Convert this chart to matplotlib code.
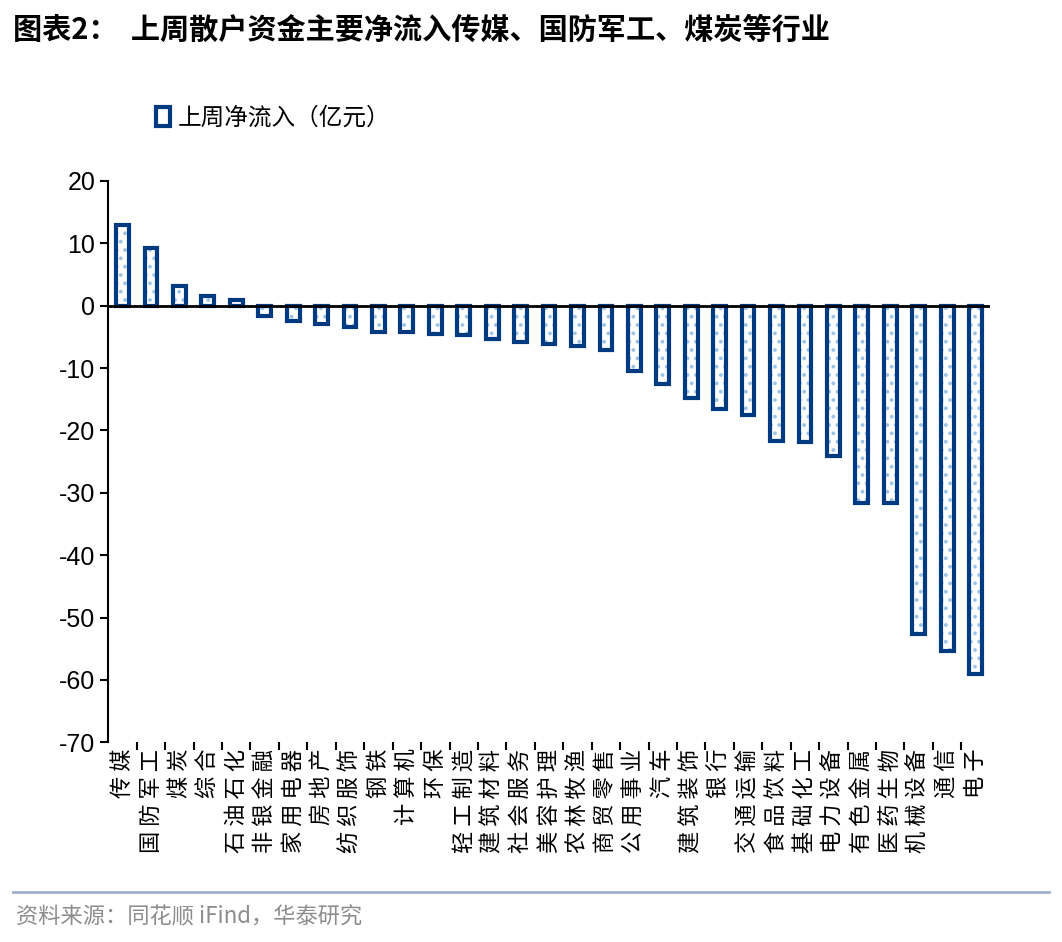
import matplotlib
matplotlib.use("Agg")
from matplotlib import pyplot as plt

plt.rcParams['font.family'] = ['Noto Sans CJK SC', 'DejaVu Sans']
plt.rcParams['hatch.linewidth'] = 1.5
plt.rcParams['axes.unicode_minus'] = False

industries = ['传媒', '国防军工', '煤炭', '综合', '石油石化', '非银金融', '家用电器', '房地产',
              '纺织服饰', '钢铁', '计算机', '环保', '轻工制造', '建筑材料', '社会服务', '美容护理',
              '农林牧渔', '商贸零售', '公用事业', '汽车', '建筑装饰', '银行', '交通运输', '食品饮料',
              '基础化工', '电力设备', '有色金属', '医药生物', '机械设备', '通信', '电子']
inflow = [13.0, 9.2, 3.1, 1.5, 0.9, -1.7, -2.5, -3.0, -3.5, -4.2, -4.3, -4.6, -4.7, -5.3, -5.8,
          -6.1, -6.4, -7.1, -10.5, -12.6, -14.8, -16.6, -17.5, -21.7, -21.8, -24.1, -31.7,
          -31.7, -52.7, -55.3, -59.1]

navy = '#003A80'
fig = plt.figure(figsize=(10.62, 9.42), dpi=100)
ax = fig.add_axes([0.102, 0.212, 0.83, 0.596])
x = list(range(len(industries)))
ax.bar(x, inflow, width=0.45, color='white', edgecolor='#9DC3E6', hatch='..', linewidth=0)
ax.bar(x, inflow, width=0.45, fill=False, edgecolor=navy, linewidth=3, label='上周净流入（亿元）')

ax.set_xlim(-0.5, len(industries) - 0.5)
ax.set_ylim(-70, 20)
ax.set_yticks(range(-70, 21, 10))
ax.tick_params(axis='y', labelsize=18, direction='out', length=6, width=1.5)
for t in ax.get_yticklabels():
    t.set_fontfamily(['Liberation Sans', 'DejaVu Sans'])
ax.set_xticks([i + 0.5 for i in x[:-1]])
ax.set_xticklabels([])
ax.tick_params(axis='x', length=6, width=1.5)
for s in ['top', 'right', 'bottom']:
    ax.spines[s].set_visible(False)
ax.spines['left'].set_linewidth(1.5)
ax.axhline(0, color='black', lw=2)
for i, name in enumerate(industries):
    ax.text(i, -71.0, ' '.join(name), ha='center', va='top', fontsize=16, rotation=90)

leg = ax.legend(loc='upper left', bbox_to_anchor=(0.03, 1.17), frameon=False, fontsize=17,
                handlelength=0.6, handleheight=0.9, handletextpad=0.3)

fig.text(0.012, 0.968, '图表2：  上周散户资金主要净流入传媒、国防军工、煤炭等行业',
         fontsize=21, fontweight='bold', va='center')
fig.add_artist(plt.Line2D([0.012, 0.988], [0.053, 0.053], color='#9FB2CB', lw=2))
fig.text(0.015, 0.027, '资料来源：同花顺 iFind，华泰研究', fontsize=16, color='#8C8C8C', va='center')

fig.savefig('out.png')
